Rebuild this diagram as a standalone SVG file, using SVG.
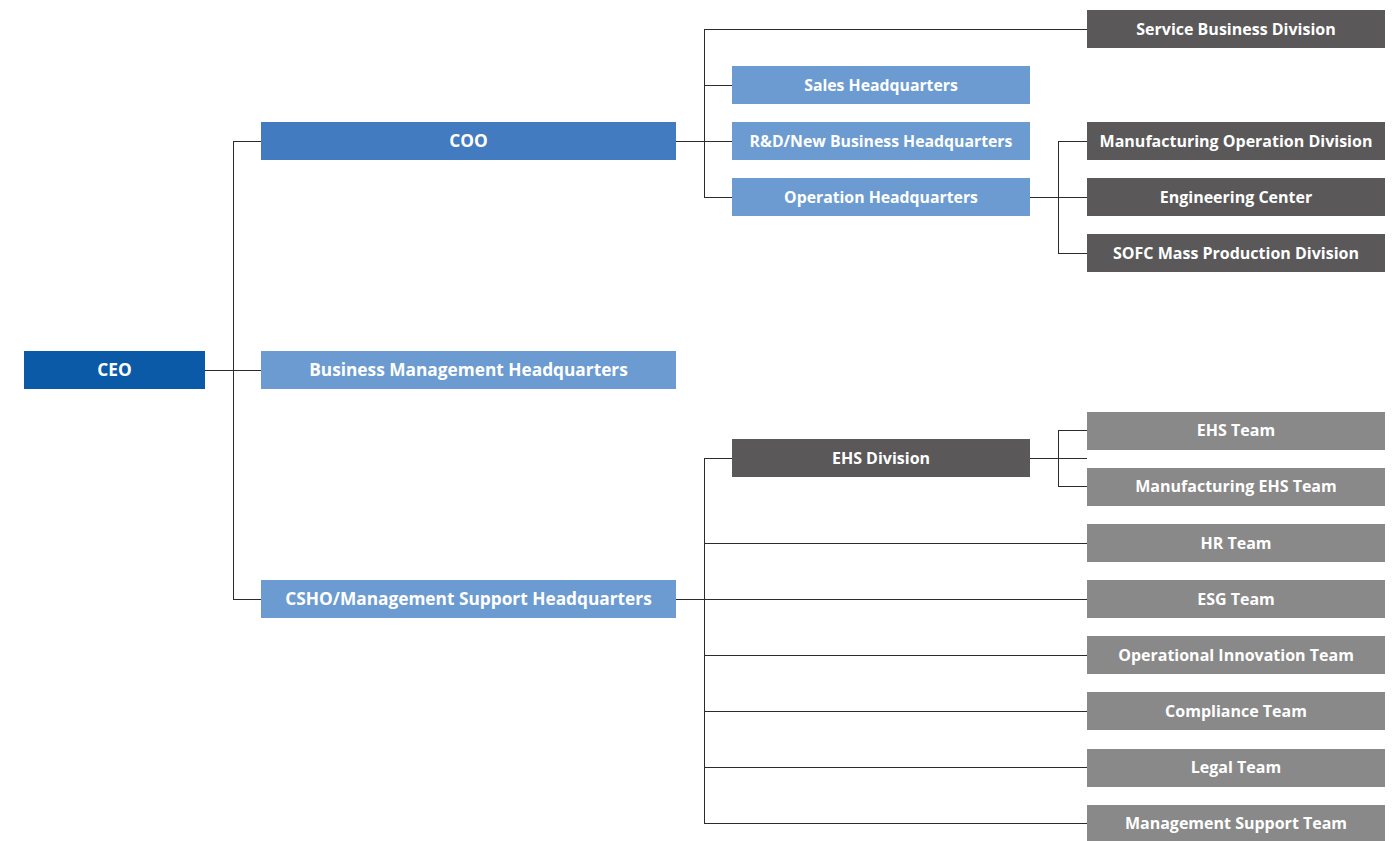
<svg xmlns="http://www.w3.org/2000/svg" width="1398" height="841" viewBox="0 0 1398 841">
<style>
text{font-family:"Open Sans","Noto Sans","Liberation Sans",sans-serif;font-weight:700;font-size:16px;fill:#ffffff;text-anchor:middle;dominant-baseline:central}
.big{font-size:17.3px}.mid{font-size:15.8px}
.ceo{fill:#0a5aa8}.coo{fill:#427bbf}.hq{fill:#6b9bd1}.dv{fill:#5a5859}.tm{fill:#898989}
.ln{fill:none;stroke:#2b2b2b;stroke-width:1}
</style>
<rect width="1398" height="841" fill="#ffffff"/>
<g id="connectors" class="ln">
<path d="M205 370.5H261M233.5 141V599M233 141.5H261M233 599.5H261"/>
<path d="M676 141.5H732M704.5 29V198M704 29.5H1087M704 85.5H732M704 197.5H732"/>
<path d="M1030 197.5H1087M1058.5 141V254M1058 141.5H1087M1058 253.5H1087"/>
<path d="M676 599.5H1087M704.5 458V824M704 458.5H732M704 543.5H1087M704 655.5H1087M704 711.5H1087M704 767.5H1087M704 823.5H1087"/>
<path d="M1030 458.5H1087M1058.5 430V487M1058 430.5H1087M1058 486.5H1087"/>
</g>
<g id="ceo"><rect class="ceo" x="24" y="351" width="181" height="38"/><text class="big" x="114.5" y="369.5">CEO</text></g>
<g id="coo"><rect class="coo" x="261" y="122" width="415" height="38"/><text class="big" x="468.5" y="140.5">COO</text></g>
<g id="bmhq"><rect class="hq" x="261" y="351" width="415" height="38"/><text class="big" x="468.5" y="369.5">Business Management Headquarters</text></g>
<g id="csho"><rect class="hq" x="261" y="580" width="415" height="38"/><text class="big" x="468.5" y="598.5">CSHO/Management Support Headquarters</text></g>
<g id="sales"><rect class="hq" x="732" y="66" width="298" height="38"/><text class="mid" x="881" y="84.5">Sales Headquarters</text></g>
<g id="rnd"><rect class="hq" x="732" y="122" width="298" height="38"/><text class="mid" x="881" y="140.5">R&amp;D/New Business Headquarters</text></g>
<g id="ophq"><rect class="hq" x="732" y="178" width="298" height="38"/><text class="mid" x="881" y="196.5">Operation Headquarters</text></g>
<g id="ehsdiv"><rect class="dv" x="732" y="439" width="298" height="38"/><text x="881" y="457.5">EHS Division</text></g>
<g id="service"><rect class="dv" x="1087" y="10" width="298" height="38"/><text x="1236" y="28.5">Service Business Division</text></g>
<g id="mfgop"><rect class="dv" x="1087" y="122" width="298" height="38"/><text x="1236" y="140.5">Manufacturing Operation Division</text></g>
<g id="eng"><rect class="dv" x="1087" y="178" width="298" height="38"/><text x="1236" y="196.5">Engineering Center</text></g>
<g id="sofc"><rect class="dv" x="1087" y="234" width="298" height="38"/><text x="1236" y="252.5">SOFC Mass Production Division</text></g>
<g id="ehsteam"><rect class="tm" x="1087" y="412" width="298" height="38"/><text x="1236" y="430">EHS Team</text></g>
<g id="mfgehs"><rect class="tm" x="1087" y="468" width="298" height="38"/><text x="1236" y="486">Manufacturing EHS Team</text></g>
<g id="hr"><rect class="tm" x="1087" y="524" width="298" height="38"/><text x="1236" y="542.5">HR Team</text></g>
<g id="esg"><rect class="tm" x="1087" y="580" width="298" height="38"/><text x="1236" y="598.5">ESG Team</text></g>
<g id="opinno"><rect class="tm" x="1087" y="636" width="298" height="38"/><text x="1236" y="654.5">Operational Innovation Team</text></g>
<g id="compliance"><rect class="tm" x="1087" y="692" width="298" height="38"/><text x="1236" y="710.5">Compliance Team</text></g>
<g id="legal"><rect class="tm" x="1087" y="749" width="298" height="38"/><text x="1236" y="767">Legal Team</text></g>
<g id="mgmtsupport"><rect class="tm" x="1087" y="805" width="298" height="38"/><text x="1236" y="823">Management Support Team</text></g>
</svg>
